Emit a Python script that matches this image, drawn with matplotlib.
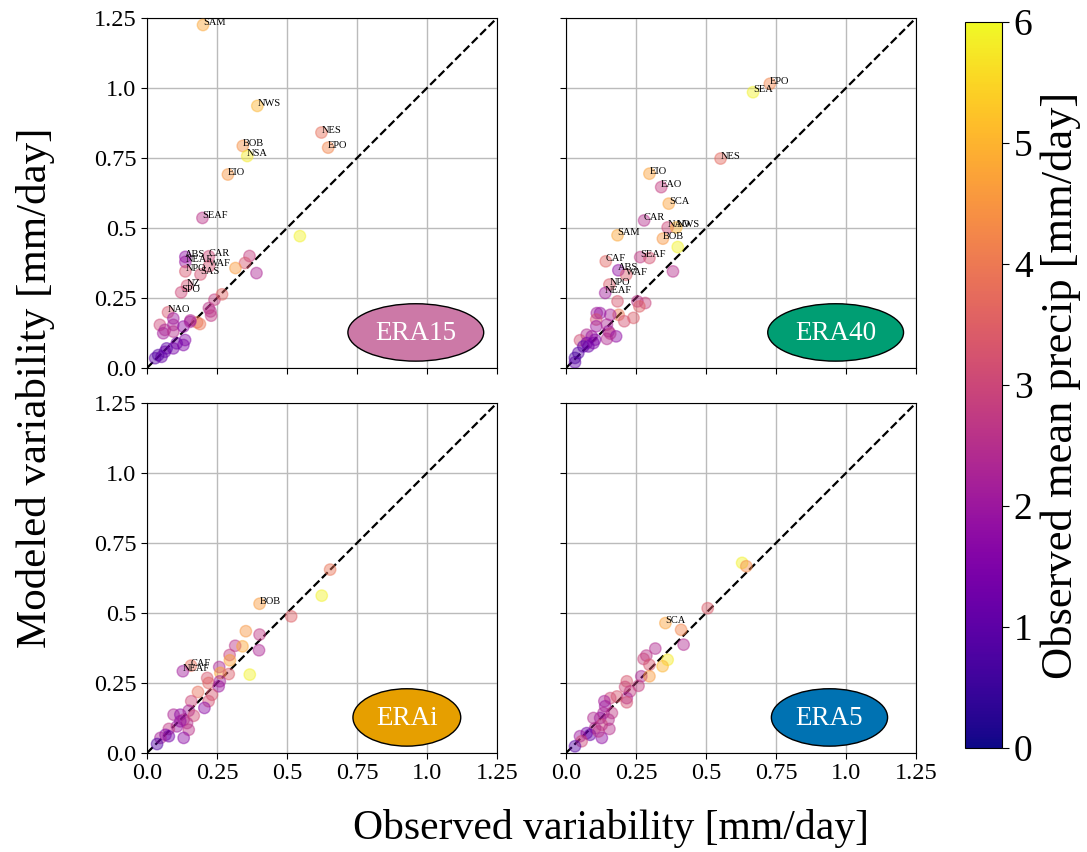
import matplotlib
matplotlib.use("Agg")
import matplotlib.pyplot as plt
from matplotlib.patches import Ellipse
import numpy as np

plt.rcParams['font.family'] = ['Liberation Serif', 'DejaVu Serif']

# observed variability, modeled variability, observed mean precip, region name
era15_obs = [0.200, 0.394, 0.623, 0.647, 0.342, 0.358, 0.289, 0.198, 0.546, 0.137,
             0.137, 0.221, 0.366, 0.350, 0.391, 0.316, 0.221, 0.137, 0.191, 0.143,
             0.122, 0.075, 0.241, 0.268, 0.221, 0.227, 0.229, 0.179, 0.189, 0.155,
             0.046, 0.094, 0.094, 0.058, 0.064, 0.094, 0.130, 0.154, 0.136, 0.130,
             0.106, 0.094, 0.070, 0.064, 0.040, 0.029, 0.052]
era15_mod = [1.225, 0.936, 0.841, 0.787, 0.793, 0.757, 0.691, 0.536, 0.471, 0.397,
             0.379, 0.399, 0.400, 0.375, 0.339, 0.357, 0.363, 0.345, 0.334, 0.294,
             0.270, 0.199, 0.244, 0.263, 0.214, 0.202, 0.187, 0.163, 0.157, 0.170,
             0.154, 0.177, 0.154, 0.124, 0.136, 0.130, 0.148, 0.165, 0.100, 0.082,
             0.088, 0.070, 0.070, 0.058, 0.046, 0.035, 0.040]
era15_pr = [4.8, 5.0, 3.8, 4.2, 4.4, 5.8, 4.5, 2.6, 5.9, 1.8,
            2.0, 3.0, 2.8, 3.3, 2.3, 4.6, 3.2, 3.3, 3.2, 3.2,
            3.0, 3.3, 2.8, 3.6, 2.6, 2.5, 2.7, 4.0, 3.9, 2.4,
            3.0, 2.0, 2.2, 2.1, 2.3, 2.5, 1.8, 2.2, 1.6, 1.5,
            1.3, 1.4, 1.0, 1.2, 0.8, 0.9, 1.1]
era15_names = ['SAM', 'NWS', 'NES', 'EPO', 'BOB', 'NSA', 'EIO', 'SEAF', '', 'ABS',
               'NEAF', 'CAR', '', '', '', '', 'WAF', 'NPO', 'SAS', 'NZ',
               'SPO', 'NAO']

era40_obs = [0.728, 0.668, 0.552, 0.298, 0.340, 0.367, 0.279, 0.363, 0.394, 0.346,
             0.184, 0.399, 0.265, 0.298, 0.142, 0.187, 0.215, 0.382, 0.155, 0.140,
             0.184, 0.255, 0.283, 0.262, 0.188, 0.158, 0.208, 0.241, 0.110, 0.122,
             0.108, 0.108, 0.146, 0.152, 0.158, 0.179, 0.146, 0.074, 0.050, 0.092,
             0.104, 0.074, 0.062, 0.080, 0.098, 0.044, 0.032, 0.032]
era40_mod = [1.015, 0.985, 0.748, 0.694, 0.646, 0.587, 0.527, 0.502, 0.502, 0.462,
             0.474, 0.432, 0.396, 0.393, 0.381, 0.349, 0.333, 0.345, 0.298, 0.268,
             0.238, 0.238, 0.232, 0.220, 0.190, 0.190, 0.167, 0.179, 0.196, 0.196,
             0.173, 0.149, 0.155, 0.131, 0.123, 0.113, 0.104, 0.119, 0.099, 0.113,
             0.101, 0.089, 0.077, 0.077, 0.089, 0.054, 0.036, 0.020]
era40_pr = [4.2, 5.9, 3.7, 4.7, 2.8, 4.7, 2.5, 3.0, 5.0, 4.5,
            4.8, 5.9, 2.7, 3.2, 3.6, 1.8, 3.4, 2.5, 3.4, 2.1,
            3.3, 2.6, 2.9, 3.5, 4.0, 2.2, 3.2, 3.4, 2.1, 1.9,
            3.2, 2.0, 2.3, 2.0, 2.8, 1.8, 2.4, 2.4, 3.1, 2.0,
            1.6, 1.4, 1.0, 1.2, 1.5, 0.9, 0.7, 1.0]
era40_names = ['EPO', 'SEA', 'NES', 'EIO', 'EAO', 'SCA', 'CAR', 'NAO', 'NWS', 'BOB',
               'SAM', '', 'SEAF', '', 'CAF', 'ABS', 'WAF', '', 'NPO', 'NEAF']

erai_obs = [0.654, 0.624, 0.402, 0.515, 0.353, 0.402, 0.315, 0.341, 0.400, 0.295,
            0.296, 0.258, 0.157, 0.128, 0.262, 0.292, 0.367, 0.215, 0.220, 0.260,
            0.256, 0.182, 0.232, 0.158, 0.220, 0.205, 0.095, 0.119, 0.131, 0.149,
            0.167, 0.143, 0.107, 0.149, 0.131, 0.078, 0.066, 0.078, 0.048, 0.036,
            0.119]
erai_mod = [0.655, 0.562, 0.533, 0.488, 0.435, 0.423, 0.383, 0.381, 0.367, 0.350,
            0.331, 0.307, 0.312, 0.292, 0.286, 0.282, 0.280, 0.268, 0.250, 0.256,
            0.238, 0.218, 0.208, 0.185, 0.185, 0.161, 0.137, 0.137, 0.119, 0.151,
            0.133, 0.107, 0.095, 0.083, 0.054, 0.086, 0.065, 0.060, 0.054, 0.032,
            0.113]
erai_pr = [3.9, 5.9, 4.6, 3.5, 4.5, 2.7, 2.6, 4.8, 2.3, 2.8,
           4.7, 2.3, 3.8, 2.1, 4.8, 3.4, 5.9, 3.3, 3.6, 2.2,
           2.0, 3.8, 3.3, 3.0, 3.2, 1.7, 2.3, 1.8, 2.4, 2.2,
           3.1, 2.5, 2.0, 2.6, 1.7, 2.7, 1.6, 1.3, 2.2, 0.8,
           1.9]
erai_names = ['', '', 'BOB', '', '', '', '', '', '', '',
              '', '', 'CAF', 'NEAF']

era5_obs = [0.629, 0.644, 0.506, 0.355, 0.411, 0.420, 0.319, 0.287, 0.277, 0.363,
            0.298, 0.345, 0.269, 0.298, 0.259, 0.217, 0.211, 0.229, 0.217, 0.217,
            0.158, 0.182, 0.137, 0.140, 0.164, 0.134, 0.122, 0.098, 0.152, 0.128,
            0.104, 0.155, 0.128, 0.074, 0.086, 0.050, 0.056, 0.032, 0.116]
era5_mod = [0.679, 0.667, 0.517, 0.464, 0.440, 0.387, 0.373, 0.348, 0.336, 0.333,
            0.315, 0.310, 0.274, 0.274, 0.240, 0.256, 0.236, 0.220, 0.196, 0.181,
            0.196, 0.202, 0.185, 0.167, 0.143, 0.143, 0.125, 0.125, 0.119, 0.101,
            0.089, 0.086, 0.054, 0.071, 0.065, 0.060, 0.042, 0.024, 0.077]
era5_pr = [5.9, 4.3, 3.4, 4.7, 4.2, 2.4, 2.4, 2.6, 2.9, 5.8,
           3.3, 5.0, 2.3, 4.6, 2.8, 3.3, 3.0, 2.8, 2.3, 3.2,
           3.0, 3.3, 2.2, 2.0, 2.7, 2.3, 1.9, 2.4, 2.5, 2.9,
           2.4, 2.5, 1.8, 1.3, 1.1, 2.0, 3.0, 0.9, 2.6]
era5_names = ['', '', '', 'SCA']

datasets = ['ERA15', 'ERA40', 'ERAi', 'ERA5']
badge_colors = ['#cc79a7', '#009e73', '#e69f00', '#0072b2']
badge_widths = [0.485, 0.485, 0.385, 0.415]
badge_x = [0.96, 0.963, 0.928, 0.941]
tick_vals = [0.0, 0.25, 0.5, 0.75, 1.0, 1.25]
tick_text = ['0.0', '0.25', '0.5', '0.75', '1.0', '1.25']

series = [(era15_obs, era15_mod, era15_pr, era15_names),
          (era40_obs, era40_mod, era40_pr, era40_names),
          (erai_obs, erai_mod, erai_pr, erai_names),
          (era5_obs, era5_mod, era5_pr, era5_names)]

fig = plt.figure(figsize=(10.87, 8.52), dpi=100)
W, H = 1087, 852
boxes = [(147, 18), (566, 18), (147, 403), (566, 403)]

for i, (x0, y0) in enumerate(boxes):
    ax = fig.add_axes([x0 / W, 1 - (y0 + 350) / H, 350 / W, 350 / H])
    obs, mod, pr, names = series[i]
    sc = ax.scatter(obs, mod, c=pr, cmap='plasma', vmin=0, vmax=6, s=68,
                    alpha=0.45, linewidths=1.0, zorder=3)
    for x, y, n in zip(obs, mod, names):
        if n:
            ax.text(x, y, n, fontsize=7.5, zorder=4)
    ax.plot([0, 1.25], [0, 1.25], 'k--', lw=1.6, zorder=2)
    ax.set_xlim(0, 1.25)
    ax.set_ylim(0, 1.25)
    ax.set_xticks(tick_vals)
    ax.set_yticks(tick_vals)
    ax.grid(True, color='#bbbbbb', lw=1.0, zorder=0)
    ax.set_axisbelow(True)
    ax.tick_params(labelsize=17.5, length=4)
    if i >= 2:
        ax.set_xticklabels(tick_text)
    else:
        ax.set_xticklabels([])
    if i % 2 == 0:
        ax.set_yticklabels(tick_text)
    else:
        ax.set_yticklabels([])
    ax.add_patch(Ellipse((badge_x[i], 0.127), badge_widths[i], 0.205,
                         facecolor=badge_colors[i], edgecolor='black', lw=1.0, zorder=5))
    ax.text(badge_x[i], 0.122, datasets[i], color='white', fontsize=19.5,
            ha='center', va='center', zorder=6)

cax = fig.add_axes([965 / W, 1 - 748 / H, 37 / W, 726 / H])
cb = fig.colorbar(sc, cax=cax)
cb.solids.set_alpha(1)
cb.set_ticks([0, 1, 2, 3, 4, 5, 6])
cb.ax.tick_params(labelsize=27, length=5)
cb.set_label('Observed mean precip [mm/day]', fontsize=32, labelpad=6)

fig.text(0.033, 0.545, 'Modeled variability [mm/day]', rotation=90,
         ha='center', va='center', fontsize=31)
fig.text(0.562, 0.028, 'Observed variability [mm/day]', ha='center',
         va='center', fontsize=30)

fig.savefig('out.png', dpi=100)
